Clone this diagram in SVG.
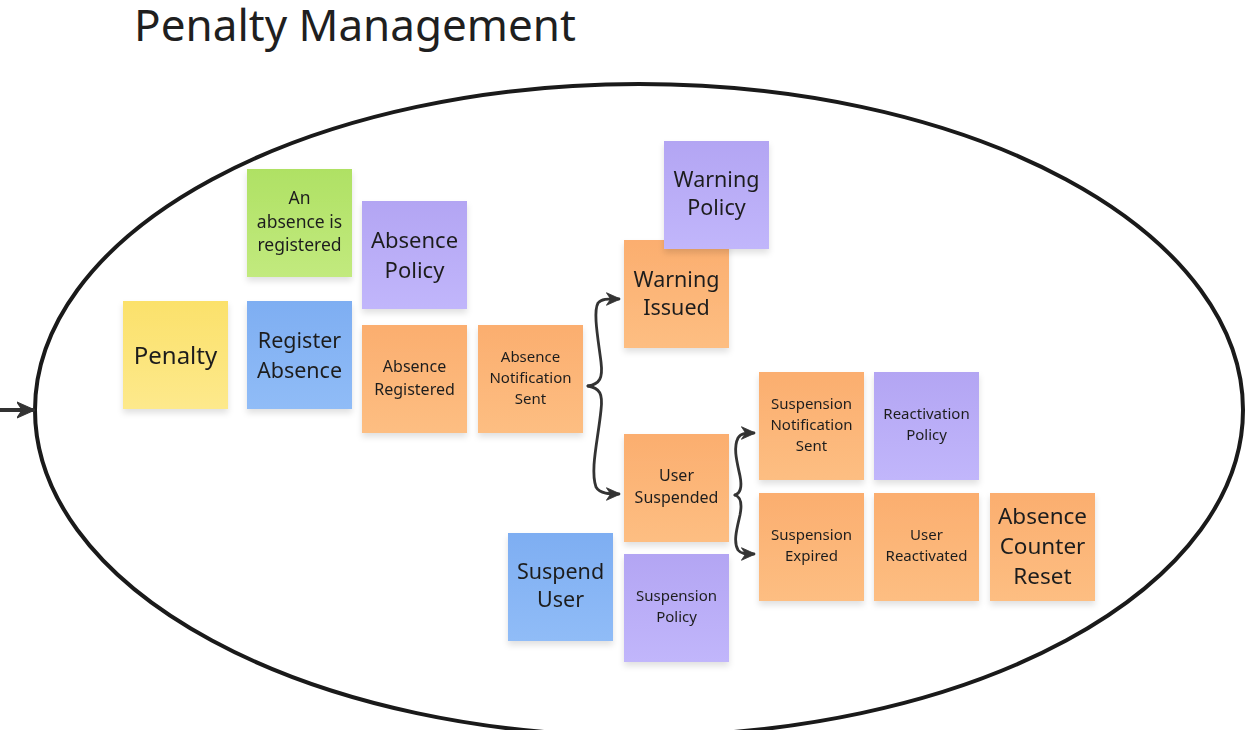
<svg xmlns="http://www.w3.org/2000/svg" width="1257" height="730" viewBox="0 0 1257 730">
<defs>
<linearGradient id="gy" x1="0" y1="0" x2="0" y2="1"><stop offset="0" stop-color="#FBE16B"/><stop offset="1" stop-color="#FDE98C"/></linearGradient>
<linearGradient id="gg" x1="0" y1="0" x2="0" y2="1"><stop offset="0" stop-color="#AFE164"/><stop offset="1" stop-color="#C2EA7E"/></linearGradient>
<linearGradient id="gb" x1="0" y1="0" x2="0" y2="1"><stop offset="0" stop-color="#7EAEF2"/><stop offset="1" stop-color="#90BCF7"/></linearGradient>
<linearGradient id="gp" x1="0" y1="0" x2="0" y2="1"><stop offset="0" stop-color="#B3A5F3"/><stop offset="1" stop-color="#C1B6FB"/></linearGradient>
<linearGradient id="go" x1="0" y1="0" x2="0" y2="1"><stop offset="0" stop-color="#FBAE6F"/><stop offset="1" stop-color="#FDBE82"/></linearGradient>
<filter id="sh" x="-20%" y="-20%" width="140%" height="150%"><feDropShadow dx="0" dy="4" stdDeviation="3" flood-color="#000" flood-opacity="0.12"/></filter>
<marker id="ah" viewBox="0 0 10 10" refX="9" refY="5" markerWidth="14" markerHeight="14" orient="auto" markerUnits="userSpaceOnUse"><path d="M0,0.5 L10,5 L0,9.5 L3,5 Z" fill="#333" stroke="#333" stroke-width="0.6" stroke-linejoin="round"/></marker>
<marker id="ahl" viewBox="0 0 10 10" refX="9" refY="5" markerWidth="18" markerHeight="18" orient="auto" markerUnits="userSpaceOnUse"><path d="M0,0.5 L10,5 L0,9.5 L3,5 Z" fill="#333" stroke="#333" stroke-width="0.6" stroke-linejoin="round"/></marker>
<style>
text{font-family:"Noto Sans","Open Sans","DejaVu Sans",sans-serif;fill:#1f1f1f;text-anchor:middle}
.n{filter:url(#sh)}
.y{fill:url(#gy)}.g{fill:url(#gg)}.b{fill:url(#gb)}.p{fill:url(#gp)}.o{fill:url(#go)}
.l{font-size:21.5px}.m{font-size:17.5px}.s{font-size:15px}.s2{font-size:16px}
.c{fill:none;stroke:#333;stroke-width:2.8;stroke-linecap:round;stroke-linejoin:round}
</style>
</defs>
<rect width="1257" height="730" fill="#fff"/>
<text x="355" y="41" style="font-size:44px;fill:#1f1f1f">Penalty Management</text>
<ellipse cx="639" cy="410" rx="604" ry="326" fill="none" stroke="#1a1a1a" stroke-width="4"/>
<g id="connectors">
<path class="c" d="M0 410 L33 410" style="stroke-width:4" marker-end="url(#ahl)"/>
<path class="c" d="M588 386 C600 384 603 378 601 362 C598 338 593 312 598 303 C602 298 610 299 619 299" marker-end="url(#ah)"/>
<path class="c" d="M588 386 C600 388 603 394 601 410 C598 440 590 470 596 487 C600 494 610 494 619 494" marker-end="url(#ah)"/>
<path class="c" d="M735 495 C741 493 742 486 740 476 C737 462 733 448 738 438 C741 433 746 433 754 433" marker-end="url(#ah)"/>
<path class="c" d="M735 495 C741 497 742 505 740 515 C737 528 733 542 738 550 C741 554 746 554 754 554" marker-end="url(#ah)"/>
</g>
<g id="penalty" class="n"><rect class="y" x="123" y="301" width="105" height="108"/><text x="175.5" y="364" style="font-size:24px">Penalty</text></g>
<g id="an-absence-is-registered" class="n"><rect class="g" x="247" y="169" width="105" height="108"/><text class="m" x="299.5" y="204">An</text><text class="m" x="299.5" y="228">absence is</text><text class="m" x="299.5" y="251">registered</text></g>
<g id="register-absence" class="n"><rect class="b" x="247" y="301" width="105" height="108"/><text class="l" x="299.5" y="348">Register</text><text class="l" x="299.5" y="378">Absence</text></g>
<g id="absence-policy" class="n"><rect class="p" x="362" y="201" width="105" height="108"/><text style="font-size:22px" x="414.5" y="248">Absence</text><text style="font-size:22px" x="414.5" y="278">Policy</text></g>
<g id="absence-registered" class="n"><rect class="o" x="362" y="325" width="105" height="108"/><text class="s2" x="414.5" y="372">Absence</text><text class="s2" x="414.5" y="395">Registered</text></g>
<g id="absence-notification-sent" class="n"><rect class="o" x="478" y="325" width="105" height="108"/><text class="s" x="530.5" y="362">Absence</text><text class="s" x="530.5" y="383">Notification</text><text class="s" x="530.5" y="404">Sent</text></g>
<g id="warning-issued" class="n"><rect class="o" x="624" y="240" width="105" height="108"/><text class="l" x="676.5" y="287">Warning</text><text class="l" x="676.5" y="315">Issued</text></g>
<g id="warning-policy" class="n"><rect class="p" x="664" y="141" width="105" height="108"/><text class="l" x="716.5" y="187">Warning</text><text class="l" x="716.5" y="215">Policy</text></g>
<g id="user-suspended" class="n"><rect class="o" x="624" y="434" width="105" height="108"/><text class="s2" x="676.5" y="481">User</text><text class="s2" x="676.5" y="503">Suspended</text></g>
<g id="suspend-user" class="n"><rect class="b" x="508" y="533" width="105" height="108"/><text class="l" x="560.5" y="579">Suspend</text><text class="l" x="560.5" y="607">User</text></g>
<g id="suspension-policy" class="n"><rect class="p" x="624" y="554" width="105" height="108"/><text class="s" x="676.5" y="601">Suspension</text><text class="s" x="676.5" y="622">Policy</text></g>
<g id="suspension-notification-sent" class="n"><rect class="o" x="759" y="372" width="105" height="108"/><text class="s" x="811.5" y="409">Suspension</text><text class="s" x="811.5" y="430">Notification</text><text class="s" x="811.5" y="451">Sent</text></g>
<g id="reactivation-policy" class="n"><rect class="p" x="874" y="372" width="105" height="108"/><text class="s" x="926.5" y="419">Reactivation</text><text class="s" x="926.5" y="440">Policy</text></g>
<g id="suspension-expired" class="n"><rect class="o" x="759" y="493" width="105" height="108"/><text class="s" x="811.5" y="540">Suspension</text><text class="s" x="811.5" y="561">Expired</text></g>
<g id="user-reactivated" class="n"><rect class="o" x="874" y="493" width="105" height="108"/><text class="s" x="926.5" y="540">User</text><text class="s" x="926.5" y="561">Reactivated</text></g>
<g id="absence-counter-reset" class="n"><rect class="o" x="990" y="493" width="105" height="108"/><text style="font-size:22.5px" x="1042.5" y="524">Absence</text><text style="font-size:22.5px" x="1042.5" y="554">Counter</text><text style="font-size:22.5px" x="1042.5" y="584">Reset</text></g>
</svg>
